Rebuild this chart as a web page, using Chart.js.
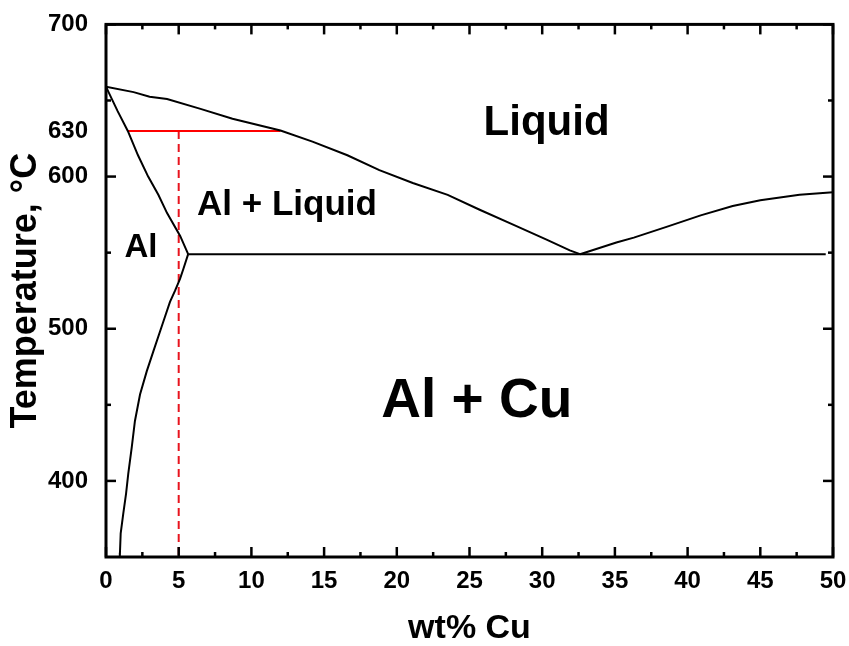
<!DOCTYPE html>
<html>
<head>
<meta charset="utf-8">
<script src="https://cdn.jsdelivr.net/npm/chart.js@4.4.1/dist/chart.umd.min.js"></script>
<style>
  html, body { margin: 0; padding: 0; background: #fff; }
  #wrap { width: 849px; height: 646px; }
</style>
</head>
<body>
<div id="wrap"><canvas id="c"></canvas></div>
<script>
// phase boundaries, [wt% Cu, temperature °C]
const liquidusLeft = [[0, 659], [1.9, 655.5], [3.0, 652.5], [4.2, 651], [6.5, 644.5], [8.7, 638],
  [12, 630.3], [14.2, 623], [16.6, 614], [18.8, 604.2], [21.1, 595.8], [23.5, 588],
  [25.7, 578.2], [28, 568.4], [30.3, 558.6], [31.9, 551.5], [32.6, 549]];
const liquidusRight = [[32.6, 549], [35.1, 556.7], [36.3, 559.9], [38.6, 567.1], [40.9, 574.5],
  [43.1, 580.6], [45, 584.5], [47.7, 588.1], [50, 589.7]];
const solidus = [[0, 659], [0.2, 655], [0.8, 643], [1.5, 630], [2.2, 614], [2.9, 600], [3.6, 588],
  [4.2, 576], [5.1, 561], [5.65, 549]];
const solvus = [[5.65, 549], [5.32, 539.3], [5.09, 532.8], [4.75, 525], [4.4, 517.6], [3.94, 504.6],
  [3.25, 485], [2.8, 472], [2.34, 456.8], [1.99, 439.4], [1.77, 422], [1.53, 404.7],
  [1.38, 391.7], [1.19, 378.6], [1.01, 365.6], [0.96, 352.8], [0.95, 350]];
const eutectic = [[5.65, 549], [49.5, 549]];
const tieLine = [[1.5, 630], [12, 630]];
const alloyLine = [[5, 630], [5, 350]];

const xMajor = [0, 5, 10, 15, 20, 25, 30, 35, 40, 45, 50];
const xMinor = [2.5, 7.5, 12.5, 17.5, 22.5, 27.5, 32.5, 37.5, 42.5, 47.5];
const yLabels = [400, 500, 600, 630, 700];
const yMajor = [400, 500, 600, 700];
const yMinor = [450, 550, 650];

const regionNames = ['Liquid', 'Al + Liquid', 'Al', 'Al + Cu'];

const toPts = arr => arr.map(p => ({ x: p[0], y: p[1] }));
const FONT = '"Liberation Sans", Arial, sans-serif';

const line = (data, color, dash) => ({
  data: toPts(data),
  showLine: true,
  borderColor: color,
  borderWidth: 2,
  borderDash: dash || [],
  pointRadius: 0,
  tension: 0,
  fill: false,
});

// frame, inward ticks and region labels
const framePlugin = {
  id: 'frame',
  afterDatasetsDraw(chart) {
    const { ctx, chartArea: a, scales: { x, y } } = chart;
    ctx.save();
    ctx.strokeStyle = '#000';
    ctx.lineWidth = 2.5;
    const tick = (x1, y1, x2, y2) => { ctx.beginPath(); ctx.moveTo(x1, y1); ctx.lineTo(x2, y2); ctx.stroke(); };
    xMajor.forEach(v => { const px = x.getPixelForValue(v); tick(px, a.bottom, px, a.bottom - 10); tick(px, a.top, px, a.top + 10); });
    xMinor.forEach(v => { const px = x.getPixelForValue(v); tick(px, a.bottom, px, a.bottom - 5); tick(px, a.top, px, a.top + 5); });
    yMajor.forEach(v => { const py = y.getPixelForValue(v); tick(a.left, py, a.left + 10, py); tick(a.right, py, a.right - 10, py); });
    yMinor.forEach(v => { const py = y.getPixelForValue(v); tick(a.left, py, a.left + 5, py); tick(a.right, py, a.right - 5, py); });
    ctx.lineWidth = 3;
    ctx.strokeRect(a.left, a.top, a.right - a.left, a.bottom - a.top);

    const place = [[30.3, 635, 42], [12.45, 581, 35], [2.4, 553, 33], [25.5, 452, 55]];
    ctx.fillStyle = '#000';
    ctx.textAlign = 'center';
    ctx.textBaseline = 'middle';
    regionNames.forEach((t, i) => {
      const [vx, vy, size] = place[i];
      ctx.font = 'bold ' + size + 'px ' + FONT;
      ctx.fillText(t, x.getPixelForValue(vx), y.getPixelForValue(vy));
    });
    ctx.restore();
  }
};

new Chart(document.getElementById('c'), {
  type: 'scatter',
  data: {
    datasets: [
      line(liquidusLeft, '#000'),
      line(liquidusRight, '#000'),
      line(solidus, '#000'),
      line(solvus, '#000'),
      line(eutectic, '#000'),
      line(tieLine, '#ff0000'),
      line(alloyLine, '#e8141e', [8, 5]),
    ]
  },
  options: {
    responsive: true,
    maintainAspectRatio: false,
    animation: false,
    layout: { padding: { top: 20, right: 16, left: 0, bottom: 0 } },
    plugins: { legend: { display: false }, tooltip: { enabled: false } },
    scales: {
      x: {
        type: 'linear',
        min: 0,
        max: 50,
        afterBuildTicks: s => { s.ticks = xMajor.map(v => ({ value: v })); },
        afterFit: s => { s.height = 89; },
        grid: { display: false },
        border: { display: false },
        ticks: { color: '#000', padding: 2, font: { family: FONT, size: 24, weight: 'bold' } },
        title: { display: true, text: 'wt% Cu', color: '#000', padding: { top: 0, bottom: 0 }, font: { family: FONT, size: 34, weight: 'bold', lineHeight: 1.0 } },
      },
      y: {
        type: 'linear',
        min: 350,
        max: 700,
        afterBuildTicks: s => { s.ticks = yLabels.map(v => ({ value: v })); },
        afterFit: s => { s.width = 106; },
        grid: { display: false },
        border: { display: false },
        ticks: { color: '#000', padding: 10, font: { family: FONT, size: 24, weight: 'bold' } },
        title: { display: true, text: 'Temperature, °C', color: '#000', padding: { top: 4, bottom: 0 }, font: { family: FONT, size: 36, weight: 'bold' } },
      }
    }
  },
  plugins: [framePlugin]
});
</script>
</body>
</html>
